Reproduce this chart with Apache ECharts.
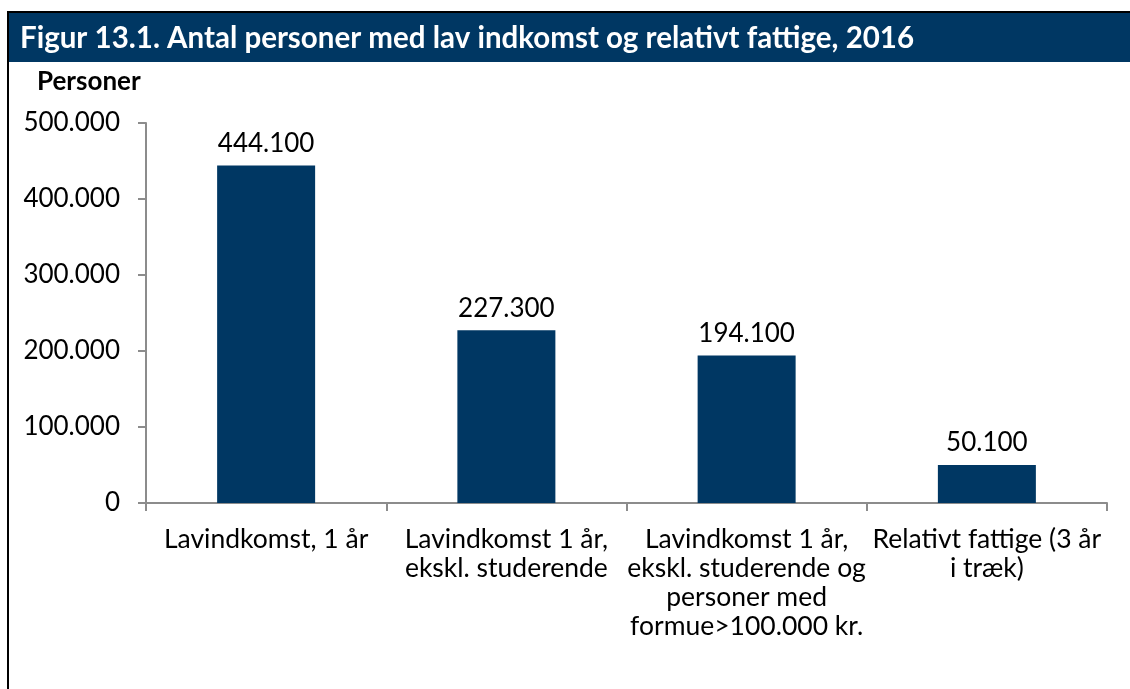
<!DOCTYPE html>
<html>
<head>
<meta charset="utf-8">
<script src="https://cdn.jsdelivr.net/npm/echarts@6/dist/echarts.min.js"></script>
<style>
  html, body { margin: 0; padding: 0; background: #fff; }
  #chart { width: 1130px; height: 689px; }
</style>
</head>
<body>
<div id="chart"></div>
<script>
// Chart data
const categories = [
  "Lavindkomst, 1 år",
  "Lavindkomst 1 år,\nekskl. studerende",
  "Lavindkomst 1 år,\nekskl. studerende og\npersoner med\nformue>100.000 kr.",
  "Relativt fattige (3 år\ni træk)",
];
const persons = [444100, 227300, 194100, 50100];
const yTicks = [0, 100000, 200000, 300000, 400000, 500000];

const titleText = "Figur 13.1. Antal personer med lav indkomst og relativt fattige, 2016";
const unitText = "Personer";

const NAVY = "#003763";
const AXIS = "#8c8c8c";
const FONT = "Lato, 'Open Sans', sans-serif";

// Danish thousands separator
function fmt(v) {
  return String(v).replace(/\B(?=(\d{3})+(?!\d))/g, ".");
}

const chart = echarts.init(document.getElementById("chart"), null, { renderer: "canvas" });

chart.setOption({
  animation: false,
  textStyle: { fontFamily: FONT },
  grid: { left: 146, right: 23, top: 123, bottom: 186, containLabel: false },
  graphic: [
    // frame
    { type: "rect", shape: { x: 8, y: 12, width: 1140, height: 700 }, style: { fill: null, stroke: "#000", lineWidth: 2 }, silent: true },
    // title bar
    { type: "rect", shape: { x: 9, y: 13, width: 1130, height: 49 }, style: { fill: NAVY }, silent: true },
    {
      type: "text", left: 20, top: 23,
      style: { text: titleText, fill: "#fff", font: "bold 29.5px " + FONT },
    },
    {
      type: "text", left: 37, top: 69,
      style: { text: unitText, fill: "#000", font: "bold 26px " + FONT },
    },
  ],
  xAxis: {
    type: "category",
    data: categories,
    axisLine: { lineStyle: { color: AXIS, width: 2 } },
    axisTick: { show: true, length: 8, lineStyle: { color: AXIS, width: 2 } },
    axisLabel: {
      color: "#000", fontSize: 26.5, lineHeight: 29, margin: 22,
      interval: 0, fontFamily: FONT,
    },
  },
  yAxis: {
    type: "value",
    min: yTicks[0],
    max: yTicks[yTicks.length - 1],
    interval: yTicks[1] - yTicks[0],
    axisLine: { show: true, lineStyle: { color: AXIS, width: 2 } },
    axisTick: { show: true, length: 8, lineStyle: { color: AXIS, width: 2 } },
    splitLine: { show: false },
    axisLabel: {
      color: "#000", fontSize: 26, margin: 26, fontFamily: FONT,
      formatter: (v) => fmt(v),
    },
  },
  series: [
    {
      type: "bar",
      data: persons,
      barWidth: 98,
      itemStyle: { color: NAVY },
      label: {
        show: true, position: "top", distance: 9,
        color: "#000", fontSize: 26, fontFamily: FONT,
        formatter: (p) => fmt(p.value),
      },
    },
  ],
});
</script>
</body>
</html>
